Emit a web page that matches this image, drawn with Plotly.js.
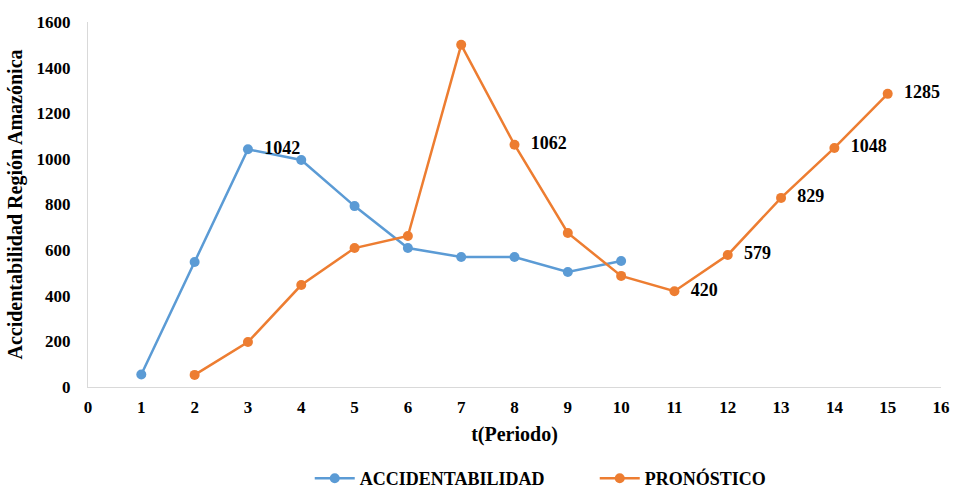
<!DOCTYPE html>
<html><head><meta charset="utf-8">
<script src="https://cdn.plot.ly/plotly-3.0.1.min.js"></script>
<style>html,body{margin:0;padding:0;background:#fff}#chart{width:956px;height:497px}</style>
</head><body><div id="chart"></div>
<script>
const periodsA = [1,2,3,4,5,6,7,8,9,10];
const accidentabilidad = [55,548,1042,995,793,609,570,570,504,552];
const labelsA = ['','','1042','','','','','','',''];
const periodsP = [2,3,4,5,6,7,8,9,10,11,12,13,14,15];
const pronostico = [53,197,447,609,662,1500,1062,675,487,420,579,829,1048,1285];
const labelsP = ['','','','','','','1062','','','420','579','829','1048','1285'];
const xTicks = [0,1,2,3,4,5,6,7,8,9,10,11,12,13,14,15,16];
const yTicks = [0,200,400,600,800,1000,1200,1400,1600];

const serif = 'Liberation Serif, Times New Roman, serif';
const lblFont = {family: serif, size: 18, color: '#000', weight: 'bold'};

const traces = [
  {x: periodsA, y: accidentabilidad, text: labelsA.map(t => t ? '  ' + t : ''), name: 'ACCIDENTABILIDAD',
   mode: 'lines+markers+text', textposition: 'middle right', textfont: lblFont,
   line: {color: '#5B9BD5', width: 2.5}, marker: {color: '#5B9BD5', size: 10},
   cliponaxis: false},
  {x: periodsP, y: pronostico, text: labelsP.map(t => t ? '  ' + t : ''), name: 'PRONÓSTICO',
   mode: 'lines+markers+text', textposition: 'middle right', textfont: lblFont,
   line: {color: '#ED7D31', width: 2.5}, marker: {color: '#ED7D31', size: 10},
   cliponaxis: false}
];

const layout = {
  width: 956, height: 497,
  margin: {l: 88, r: 15, t: 22, b: 110},
  paper_bgcolor: '#fff', plot_bgcolor: '#fff',
  font: {family: serif, color: '#000'},
  showlegend: true,
  legend: {orientation: 'h', x: 0.324, xanchor: 'left', xref: 'container',
           y: 0, yanchor: 'bottom', yref: 'container',
           itemwidth: 40, entrywidth: 230, traceorder: 'normal',
           font: {family: serif, size: 18, color: '#000', weight: 'bold'}},
  xaxis: {range: [0, 16], tickvals: xTicks, ticktext: xTicks.map(String),
          showgrid: false, zeroline: false, showline: true, linecolor: '#d9d9d9', linewidth: 1,
          ticks: '', ticklabelstandoff: 5,
          tickfont: {family: serif, size: 17, color: '#000', weight: 'bold'},
          title: {text: 't(Periodo)', standoff: 10,
                  font: {family: serif, size: 20, color: '#000', weight: 'bold'}}},
  yaxis: {range: [0, 1600], tickvals: yTicks, ticktext: yTicks.map(String),
          showgrid: false, zeroline: false, showline: true, linecolor: '#d9d9d9', linewidth: 1,
          ticks: '', ticklabelstandoff: 13,
          tickfont: {family: serif, size: 17, color: '#000', weight: 'bold'},
          title: {text: 'Accidentabilidad Región Amazónica', standoff: 8,
                  font: {family: serif, size: 20, color: '#000', weight: 'bold'}}}
};

Plotly.newPlot('chart', traces, layout, {displayModeBar: false, staticPlot: true});
</script></body></html>
